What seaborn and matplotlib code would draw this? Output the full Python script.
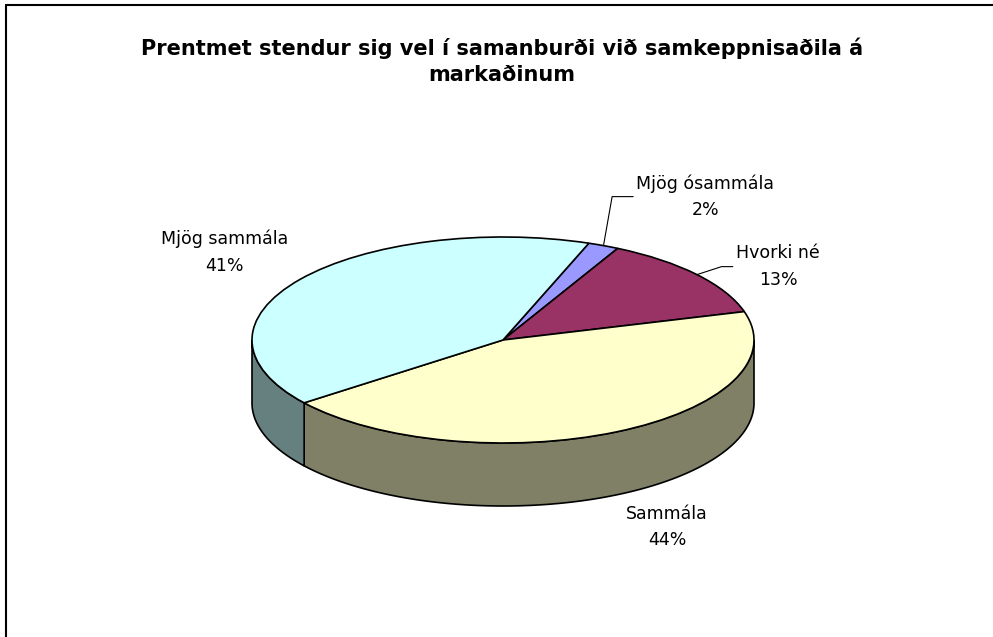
import numpy as np
import matplotlib
matplotlib.use("Agg")
import matplotlib.pyplot as plt
import matplotlib.colors as mcolors
from matplotlib.patches import Polygon
from matplotlib.lines import Line2D
import seaborn as sns

# Data
categories = ['Mjög ósammála', 'Hvorki né', 'Sammála', 'Mjög sammála']
shares = [2, 13, 44, 41]
pct_labels = ['2%', '13%', '44%', '41%']
face_colors = ['#9999FF', '#993366', '#FFFFCC', '#CCFFFF']
title = 'Prentmet stendur sig vel í samanburði við samkeppnisaðila á\nmarkaðinum'

sns.set_theme(style='white')
plt.rcParams['font.family'] = ['DejaVu Sans']

W, H = 993, 637
fig = plt.figure(figsize=(W / 100, H / 100), dpi=100)
fig.patch.set_facecolor('white')

# pie placement in pixels (centre, radii, wall depth)
cx, cy, rx, ry, depth = 503, 340, 251, 103, 63
ax = fig.add_axes([0, 0, 1, 1])

wedges, _ = ax.pie(shares, startangle=70, counterclock=False, colors=face_colors,
                   wedgeprops=dict(edgecolor='black', linewidth=1.2))

# squash the circle into the tilted ellipse
ax.set_aspect('auto')
ax.set_xlim(-cx / rx, (W - cx) / rx)
ax.set_ylim(-(H - cy) / ry, cy / ry)
ax.axis('off')

# side walls of the 3D pie (front half only)
d = depth / ry
for w, col in zip(wedges, face_colors):
    lo, hi = w.theta1, w.theta2
    dark = np.array(mcolors.to_rgb(col)) * 0.5
    for k in range(-2, 3):
        a, b = max(lo, -180 + 360 * k), min(hi, 360 * k)
        if b > a:
            t = np.radians(np.linspace(a, b, 120))
            xs, ys = np.cos(t), np.sin(t)
            pts = np.column_stack([np.r_[xs, xs[::-1]], np.r_[ys, ys[::-1] - d]])
            ax.add_patch(Polygon(pts, closed=True, facecolor=dark, edgecolor='black',
                                 linewidth=1.2, zorder=0.5))

# data labels
offsets = [(102, 49), (81, 8), (51, -95), (-76, 27)]
leaders = ['angle,angleA=0,angleB=80,rad=0', 'angle,angleA=0,angleB=18,rad=0', None, None]
for w, cat, pct, off, lead in zip(wedges, categories, pct_labels, offsets, leaders):
    t = np.radians((w.theta1 + w.theta2) / 2)
    arrow = None
    if lead:
        arrow = dict(arrowstyle='-', color='black', lw=0.8, connectionstyle=lead,
                     shrinkA=0, shrinkB=0)
    ax.annotate(f'{cat}\n{pct}', xy=(np.cos(t), np.sin(t)), xytext=off,
                textcoords='offset pixels', ha='center', va='center',
                fontsize=12.5, linespacing=1.6, color='black', arrowprops=arrow)

fig.text(502 / W, 1 - 61 / H, title, ha='center', va='center', fontsize=15,
         fontweight='bold', linespacing=1.35, color='black')

# chart area border (left and top edges visible)
fig.add_artist(Line2D([6 / W, 6 / W], [0, 1 - 5 / H], color='black', lw=1.5))
fig.add_artist(Line2D([6 / W, 1], [1 - 5 / H, 1 - 5 / H], color='black', lw=1.5))

fig.savefig('out.png', dpi=100)
